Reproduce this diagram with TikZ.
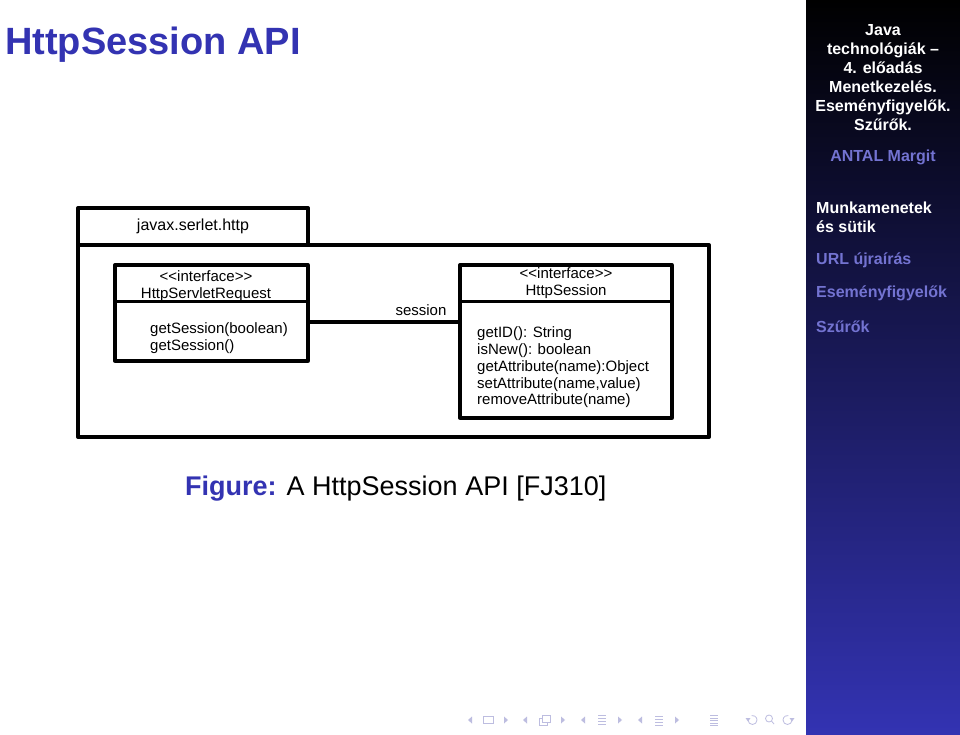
\documentclass[tikz,border=0pt]{standalone}
\usepackage{fontspec}
\setmainfont{Liberation Sans}
\newfontfamily\umlfamily{Liberation Sans}
\usetikzlibrary{positioning}

\definecolor{structure}{rgb}{0.2,0.2,0.7}
\definecolor{sidelink}{rgb}{0.45,0.45,0.82}
\definecolor{navsym}{rgb}{0.74,0.74,0.88}

\tikzset{
  pkgbox/.style={draw=black, line width=4pt, line join=round, inner sep=0pt},
  umlbox/.style={draw=black, line width=3.3pt, line join=round, inner sep=0pt},
  divider/.style={draw=black, line width=3.3pt},
  assocline/.style={draw=black, line width=3.3pt},
  umltext/.style={inner sep=0pt, font=\umlfamily\fontsize{15}{16.8}\selectfont},
  sidetext/.style={inner sep=0pt, text=white, font=\bfseries\fontsize{16}{19}\selectfont},
  navline/.style={draw=navsym, line width=0.8pt},
}

\begin{document}
\begin{tikzpicture}[x=1pt,y=-1pt]
\useasboundingbox (0,0) rectangle (960,735);
\fill[white] (0,0) rectangle (960,735);
% sidebar
\shade[top color=black, bottom color=structure] (806,0) rectangle (960,735);

% frame title
\node[anchor=base west, inner sep=0pt, text=structure, font=\bfseries\fontsize{38}{40}\selectfont] (title) at (5,55) {HttpSession API};

% package
\node[pkgbox, minimum width=230, minimum height=37, font=\fontsize{16}{19}\selectfont] (pkgtab) at (193,226.5) {javax.serlet.http};
\node[pkgbox, minimum width=631, minimum height=192] (pkg) at (393.5,341) {};

% classes
\node[umlbox, minimum width=193, minimum height=96] (request) at (211.5,313) {};
\draw[divider] ([yshift=-38pt]request.north west) -- ([yshift=-38pt]request.north east);
\node[umltext, align=center] (requesthead) at (206,286.5) {<<interface>>\\HttpServletRequest};
\node[umltext, align=left, anchor=west] (requestops) at (150,338) {getSession(boolean)\\getSession()};

\node[umlbox, minimum width=212, minimum height=153] (session) at (566,341.5) {};
\draw[divider] ([yshift=-38pt]session.north west) -- ([yshift=-38pt]session.north east);
\node[umltext, align=center] (sessionhead) at (566,283) {<<interface>>\\HttpSession};
\node[umltext, align=left, anchor=west] (sessionops) at (477,367.5) {getID(): String\\isNew(): boolean\\getAttribute(name):Object\\setAttribute(name,value)\\removeAttribute(name)};

% association
\coordinate (assoc) at ([yshift=-9pt]request.east);
\draw[assocline] (assoc) -- (assoc -| session.west);
\node[umltext] (assoclabel) at (421,310.5) {session};

% caption
\node[anchor=base west, inner sep=0pt, font=\fontsize{27}{30}\selectfont] (caption) at (185,495) {\textcolor{structure}{\bfseries Figure:} A HttpSession API [FJ310]};

% sidebar texts
\node[sidetext, align=center] (talkinfo) at (883,77.5) {Java\\technológiák –\\4. előadás\\Menetkezelés.\\Eseményfigyelők.\\Szűrők.};
\node[sidetext, text=sidelink] (author) at (883,157) {ANTAL Margit};
\node[sidetext, align=left, anchor=west] (sec1) at (816,217.5) {Munkamenetek\\és sütik};
\node[sidetext, anchor=west, text=sidelink] (sec2) at (816,260) {URL újraírás};
\node[sidetext, anchor=west, text=sidelink] (sec3) at (816,293) {Eseményfigyelők};
\node[sidetext, anchor=west, text=sidelink] (sec4) at (816,327) {Szűrők};

% navigation symbols
\foreach \x in {470,525,583,640}
  \fill[navsym] (\x+2,716.5) -- (\x-2,720) -- (\x+2,723.5) -- cycle;
\foreach \x in {506,563,620,677}
  \fill[navsym] (\x-2,716.5) -- (\x+2,720) -- (\x-2,723.5) -- cycle;
\draw[navline] (483,716.5) rectangle (493,723.5);
\draw[navline] (539,718) rectangle (547,725);
\filldraw[navline, fill=white] (542,715.5) rectangle (550,722.5);
\foreach \y in {715.5,718.5,721.5,724.5}
  \draw[navline, line width=0.6pt] (598,\y) -- (606,\y);
\foreach \y in {716,719,722,725}
  \draw[navline, line width=0.9pt] (655,\y) -- (663,\y);
\foreach \y in {715.5,718,720.5,723,725.5}
  \draw[navline, line width=0.6pt] (710,\y) -- (718,\y);
\draw[navline] (748,720) arc[start angle=180, end angle=-100, radius=4.5];
\fill[navsym] (745.5,718) -- (750.5,718) -- (748,721.5) -- cycle;
\draw[navline] (769,718.5) circle (3.5) (771.5,721) -- (774,724);
\draw[navline] (792,720) arc[start angle=0, end angle=280, radius=4.5];
\fill[navsym] (789.5,718) -- (794.5,718) -- (792,721.5) -- cycle;
\end{tikzpicture}
\end{document}
